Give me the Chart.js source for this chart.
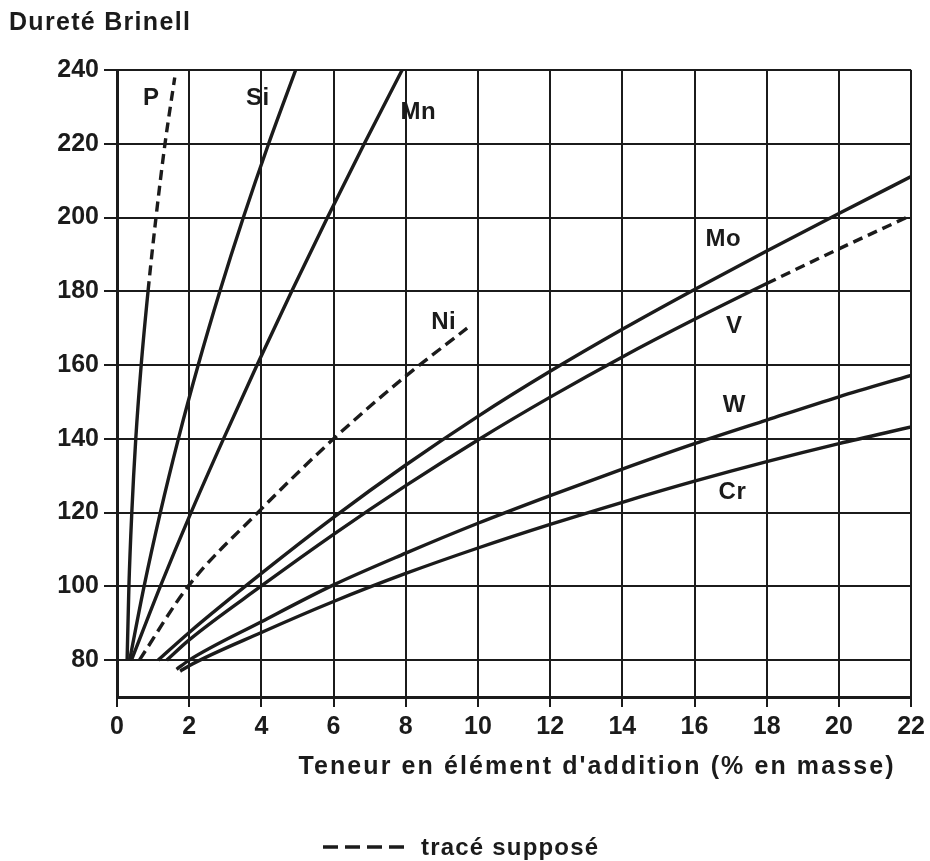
<!DOCTYPE html>
<html>
<head>
<meta charset="utf-8">
<script src="https://cdn.jsdelivr.net/npm/chart.js@4.4.1/dist/chart.umd.min.js"></script>
<style>
  html, body { margin: 0; background: #fff; }
</style>
</head>
<body>
<canvas id="chart" width="930" height="861"></canvas>
<script>
// Brinell hardness vs alloying element content (% by mass)
const pX = [0.28, 0.33, 0.41, 0.52, 0.67, 0.86, 1.08, 1.33, 1.6];
const pY = [80, 100, 120, 140, 160, 180, 200, 220, 238];
const siX = [0.35, 0.75, 1.2, 1.7, 2.25, 2.85, 3.5, 4.2, 4.95];
const siY = [80, 100, 120, 140, 160, 180, 200, 220, 240];
const mnX = [0.4, 1.2, 2.05, 2.95, 3.88, 4.84, 5.83, 6.85, 7.9];
const mnY = [80, 100, 120, 140, 160, 180, 200, 220, 240];
const niX = [0.62, 1.97, 3.9, 6.0, 8.0, 9.7];
const niY = [80, 100, 120, 140, 157, 170];
const moX = [1.14, 2, 4, 6, 8, 10, 12, 14, 16, 18, 20, 22];
const moY = [80, 87.5, 103.5, 118.7, 132.9, 146.1, 158.3, 169.7, 180.5, 190.9, 201.1, 211.1];
const vX = [1.38, 2, 4, 6, 8, 10, 12, 14, 16, 18, 20, 22];
const vY = [80, 85.5, 100.1, 114.1, 127.3, 139.7, 151.3, 162.2, 172.4, 182.1, 191.5, 200.6];
const wX = [1.65, 2, 4, 6, 8, 10, 12, 14, 16, 18, 20, 22];
const wY = [77.5, 80, 90.4, 100.4, 109, 117.1, 124.6, 131.8, 138.7, 145.1, 151.4, 157.2];
const crX = [1.75, 2, 4, 6, 8, 10, 12, 14, 16, 18, 20, 22];
const crY = [77, 78.5, 87.5, 95.9, 103.5, 110.4, 116.8, 122.8, 128.5, 133.8, 138.7, 143.2];

const yTicks = [80, 100, 120, 140, 160, 180, 200, 220, 240];

// where each element name is written, in axis units
const names = ["P", "Si", "Mn", "Ni", "Mo", "V", "W", "Cr"];
const nameX = [0.95, 3.9, 8.35, 9.05, 16.8, 17.1, 17.1, 17.05];
const nameY = [232.4, 232.4, 228.6, 171.7, 194, 170.4, 149, 125.5];

const INK = "#1b1b1b";
const FONT = "Liberation Sans";

const pts = (xs, ys) => xs.map((x, i) => ({ x, y: ys[i] }));

function curve(label, xs, ys, extra) {
  return Object.assign({
    label,
    data: pts(xs, ys),
    borderColor: INK,
    borderWidth: 3.4,
    pointRadius: 0,
    fill: false,
    cubicInterpolationMode: "monotone"
  }, extra || {});
}

const datasets = [
  // P is only assumed above 180 HB
  curve("P", pX, pY, {
    segment: { borderDash: (c) => (c.p0.parsed.y >= 179 ? [10, 6] : undefined) }
  }),
  curve("Si", siX, siY),
  curve("Mn", mnX, mnY),
  curve("Ni", niX, niY, { borderDash: [11, 6] }),
  curve("Mo", moX, moY),
  // V dashed past 18 %
  curve("V", vX, vY, {
    segment: { borderDash: (c) => (c.p0.parsed.x >= 18 ? [10, 6] : undefined) }
  }),
  curve("W", wX, wY),
  curve("Cr", crX, crY)
];

function text(ctx, str, x, y, spacing) {
  ctx.letterSpacing = spacing + "px";
  ctx.fillText(str, x, y);
}

const textPlugin = {
  id: "texts",
  afterDatasetsDraw(chart) {
    const { ctx, scales } = chart;
    ctx.save();
    ctx.fillStyle = INK;
    ctx.font = `bold 24px "${FONT}"`;
    ctx.textAlign = "center";
    ctx.textBaseline = "middle";
    names.forEach((n, i) => {
      text(ctx, n, scales.x.getPixelForValue(nameX[i]), scales.y.getPixelForValue(nameY[i]), 0.5);
    });
    ctx.restore();
  },
  afterDraw(chart) {
    const { ctx } = chart;
    ctx.save();
    ctx.fillStyle = INK;
    ctx.textBaseline = "alphabetic";

    ctx.font = `bold 25px "${FONT}"`;
    ctx.textAlign = "left";
    text(ctx, "Dureté Brinell", 9, 30, 1.3);

    ctx.textAlign = "center";
    text(ctx, "Teneur en élément d'addition (% en masse)", 597, 774, 2.1);

    // legend for the assumed parts
    ctx.strokeStyle = INK;
    ctx.lineWidth = 3.6;
    ctx.setLineDash([15, 7]);
    ctx.beginPath();
    ctx.moveTo(323, 847);
    ctx.lineTo(406, 847);
    ctx.stroke();
    ctx.setLineDash([]);
    ctx.font = `bold 24px "${FONT}"`;
    ctx.textAlign = "left";
    text(ctx, "tracé supposé", 421, 855, 1.2);
    ctx.restore();
  }
};

new Chart(document.getElementById("chart"), {
  type: "line",
  data: { datasets },
  options: {
    responsive: false,
    animation: false,
    layout: { padding: { left: 0, top: 70, right: 18, bottom: 124 } },
    plugins: { legend: { display: false }, tooltip: { enabled: false } },
    scales: {
      x: {
        type: "linear",
        min: 0,
        max: 22,
        ticks: {
          stepSize: 2,
          color: INK,
          font: { family: FONT, size: 25, weight: "bold" },
          padding: 5,
          maxRotation: 0
        },
        grid: { color: INK, lineWidth: 2, tickLength: 10, tickColor: INK },
        border: { color: INK, width: 3 },
        afterFit: (s) => { s.height = 40; }
      },
      y: {
        type: "linear",
        min: 70,
        max: 240,
        afterBuildTicks: (s) => { s.ticks = yTicks.map((v) => ({ value: v })); },
        ticks: {
          color: INK,
          font: { family: FONT, size: 25, weight: "bold" },
          padding: 5
        },
        grid: { color: INK, lineWidth: 2, tickLength: 13, tickColor: INK },
        border: { color: INK, width: 3 },
        afterFit: (s) => { s.width = 117; }
      }
    }
  },
  plugins: [textPlugin]
});
</script>
</body>
</html>
